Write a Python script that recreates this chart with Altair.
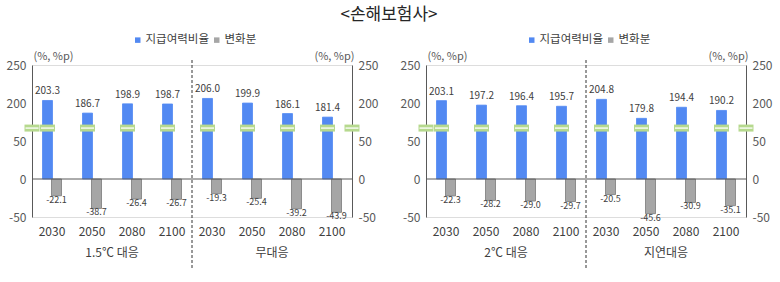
import altair as alt
import pandas as pd

FONT = "Noto Sans CJK KR"
BLUE = "#5289f2"
GRAY = "#a6a6a6"
GRAY_LINE = "#7a7a7a"
GREEN = "#b6d98e"
AXIS_C = "#595959"
TEXT_C = "#404040"

series_names = ["지급여력비율", "변화분"]
years = ["2030", "2050", "2080", "2100"]
groups_left = ["1.5℃ 대응", "무대응"]
groups_right = ["2℃ 대응", "지연대응"]

ratio_15 = [203.3, 186.7, 198.9, 198.7]
ratio_none = [206.0, 199.9, 186.1, 181.4]
ratio_20 = [203.1, 197.2, 196.4, 195.7]
ratio_delay = [204.8, 179.8, 194.4, 190.2]

change_15 = [-22.1, -38.7, -26.4, -26.7]
change_none = [-19.3, -25.4, -39.2, -43.9]
change_20 = [-22.3, -28.2, -29.0, -29.7]
change_delay = [-20.5, -45.6, -30.9, -35.1]

# axis ticks shown, and the broken-axis scale: 50 (lower part) and 150 (upper part) meet
y_ticks = [-50, 0, 50, 200, 250]
y_domain = [-50, 0, 50, 150, 250]
break_value = 167

W = 320
H = 152


def panel(groups, ratios, changes, legend_x):
    rows = []
    for g, r, c in zip(groups, ratios, changes):
        for yr, rv, cv in zip(years, r, c):
            key = g + "|" + yr
            rows.append(dict(key=key, series=series_names[0], value=rv, lbl=f"{rv:.1f}"))
            rows.append(dict(key=key, series=series_names[1], value=cv, lbl=f"{cv:.1f}"))
    df = pd.DataFrame(rows)
    key_order = [g + "|" + yr for g in groups for yr in years]

    def xenc(show_axis=False):
        ax = None
        if show_axis:
            ax = alt.Axis(title=None, labelExpr="split(datum.label, '|')[1]",
                          domain=False, ticks=False, labelPadding=9, labelFontSize=12,
                          labelColor=TEXT_C, labelFont=FONT, labelAngle=0)
        return alt.X("key:N", sort=key_order,
                     scale=alt.Scale(domain=key_order, paddingInner=0, paddingOuter=0),
                     axis=ax)

    xoff = alt.XOffset("series:N", sort=series_names,
                       scale=alt.Scale(domain=series_names, range=[11, 29],
                                       paddingInner=0, paddingOuter=0))

    def yscale():
        return alt.Scale(domain=y_domain, range=[H, 3 * H / 4, H / 2, H / 2, 0],
                         nice=False, zero=False)

    def yaxis(orient):
        return alt.Axis(values=y_ticks, orient=orient, title="(%, %p)", titleAngle=0,
                        titleAlign="left" if orient == "left" else "right",
                        titleX=1 if orient == "left" else 2, titleY=-4,
                        titleBaseline="bottom", titleFont=FONT, titleFontSize=11,
                        titleFontWeight="normal", titleColor=AXIS_C,
                        labelExpr="'' + datum.value", labelFont=FONT, labelFontSize=12,
                        labelColor=AXIS_C, labelPadding=6, ticks=False,
                        domainColor=AXIS_C, domainWidth=1, grid=False)

    base = alt.Chart(df)

    bars = base.mark_bar(width=10, strokeWidth=0.8).encode(
        x=xenc(True),
        xOffset=xoff,
        y=alt.Y("value:Q", scale=yscale(), axis=yaxis("left")),
        color=alt.Color("series:N", sort=series_names,
                        scale=alt.Scale(domain=series_names, range=[BLUE, GRAY]),
                        legend=alt.Legend(title=None, orient="none", legendX=legend_x,
                                          legendY=-31, direction="horizontal",
                                          symbolType="square", symbolSize=30,
                                          labelFont=FONT, labelFontSize=11.5,
                                          labelColor=TEXT_C, columnPadding=2,
                                          labelOffset=2, symbolStrokeWidth=0)),
        stroke=alt.Stroke("series:N", sort=series_names,
                          scale=alt.Scale(domain=series_names, range=[BLUE, GRAY_LINE]),
                          legend=None),
    )

    zero = alt.Chart(pd.DataFrame({"z": [y_ticks[1]]})).mark_rule(
        color=AXIS_C, strokeWidth=1).encode(
        y=alt.Y("z:Q", scale=yscale(), axis=None))

    top_lbl = base.transform_filter(alt.datum.series == series_names[0]).mark_text(
        baseline="bottom", dy=-4, fontSize=10, font=FONT, color=TEXT_C).encode(
        x=xenc(), xOffset=xoff,
        y=alt.Y("value:Q", scale=yscale(), axis=yaxis("right")),
        text="lbl:N")

    bot_lbl = base.transform_filter(alt.datum.series == series_names[1]).mark_text(
        baseline="top", dy=0, fontSize=9, font=FONT, color=TEXT_C).encode(
        x=xenc(), xOffset=xoff,
        y=alt.Y("value:Q", scale=yscale(), axis=None),
        text="lbl:N")

    brk_df = df[df.series == series_names[0]].assign(b=break_value)
    brk = alt.Chart(brk_df).mark_tick(size=15, thickness=7, color=GREEN, opacity=1).encode(
        x=xenc(), xOffset=xoff,
        y=alt.Y("b:Q", scale=yscale(), axis=None))
    brk_w = alt.Chart(brk_df).mark_tick(size=13, thickness=1.3, color="white", opacity=1).encode(
        x=xenc(), xOffset=xoff,
        y=alt.Y("b:Q", scale=yscale(), axis=None))

    qx = alt.Scale(domain=[0, len(groups)], nice=False, zero=False)
    grp_df = pd.DataFrame({"pos": [i + 0.5 for i in range(len(groups))], "g": groups})
    grp = alt.Chart(grp_df).mark_text(fontSize=12, font=FONT, color=TEXT_C).encode(
        x=alt.X("pos:Q", scale=qx, axis=None),
        y=alt.value(H + 36),
        text="g:N")

    sep_df = pd.DataFrame({"pos": [len(groups) / 2]})
    sep = alt.Chart(sep_df).mark_rule(color="#333333", strokeWidth=1, strokeDash=[3, 2]).encode(
        x=alt.X("pos:Q", scale=qx, axis=None),
        y=alt.value(-5), y2=alt.value(H + 53))

    ax_df = pd.DataFrame({"pos": [0, len(groups)], "b": [break_value, break_value]})
    ax_brk = alt.Chart(ax_df).mark_tick(size=15, thickness=7, color=GREEN, opacity=1,
                                        orient="horizontal").encode(
        x=alt.X("pos:Q", scale=qx, axis=None),
        y=alt.Y("b:Q", scale=yscale(), axis=None))
    ax_brk_w = alt.Chart(ax_df).mark_tick(size=13, thickness=1.3, color="white", opacity=1,
                                          orient="horizontal").encode(
        x=alt.X("pos:Q", scale=qx, axis=None),
        y=alt.Y("b:Q", scale=yscale(), axis=None))

    return alt.layer(bars, zero, top_lbl, bot_lbl, brk, brk_w, grp, sep, ax_brk, ax_brk_w).resolve_scale(
        x="independent", y="independent").properties(width=W, height=H)


left = panel(groups_left, [ratio_15, ratio_none], [change_15, change_none], 100)
right = panel(groups_right, [ratio_20, ratio_delay], [change_20, change_delay], 100)

chart = alt.hconcat(left, right, spacing=74, bounds="flush").resolve_scale(
    color="independent", stroke="independent").resolve_legend(
    color="independent", stroke="independent").properties(
    title=alt.TitleParams("<손해보험사>", fontSize=17, font=FONT, color="#262626",
                          anchor="middle", fontWeight="normal", offset=10),
    padding={"left": 5, "top": 5, "right": 5, "bottom": 5},
).configure_view(stroke=None).configure(background="white")

chart.save("out.html", embed_options={"renderer": "svg", "actions": False})
